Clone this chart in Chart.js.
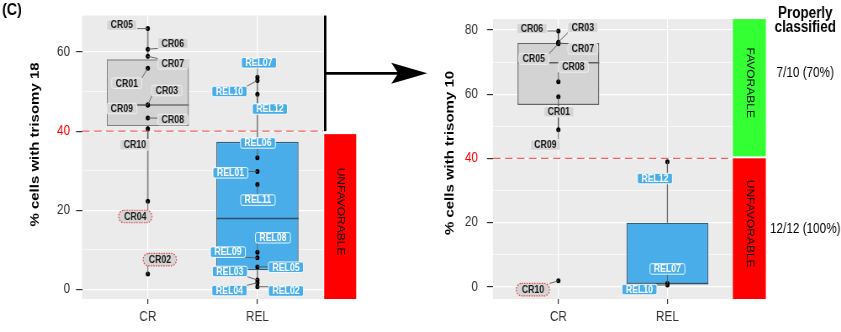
<!DOCTYPE html>
<html>
<head>
<meta charset="utf-8">
<title>Trisomy 18 and trisomy 10 by response group</title>
<script src="https://cdn.jsdelivr.net/npm/chart.js@4.4.1/dist/chart.umd.min.js"></script>
<style>
  html, body { margin: 0; padding: 0; background: #ffffff; }
  body { position: relative; width: 841px; height: 332px; overflow: hidden; }
  canvas { position: absolute; top: 0; }
</style>
</head>
<body>
<canvas id="panel18" width="511" height="332" style="left:0px;width:430px;height:332px"></canvas>
<canvas id="panel10" width="489" height="332" style="left:430px;width:411px;height:332px"></canvas>
<script>
// ---------------- data ----------------
const groups = ['CR', 'REL'];
const threshold = 40;

// % cells with trisomy 18
const t18CrIds   = ['CR01', 'CR02', 'CR03', 'CR04', 'CR05', 'CR06', 'CR07', 'CR08', 'CR09', 'CR10'];
const t18CrVals  = [55.9, 3.9, 46.6, 22.3, 65.9, 60.7, 58.9, 43.3, 46.6, 40.6];
const t18RelIds  = ['REL01', 'REL02', 'REL03', 'REL04', 'REL05', 'REL06', 'REL07', 'REL08', 'REL09', 'REL10', 'REL11', 'REL12'];
const t18RelVals = [29.8, 0.7, 2.4, 1.7, 5.7, 33.3, 53.6, 9.4, 8.0, 52.8, 26.5, 49.3];

// % cells with trisomy 10
const t10CrIds   = ['CR01', 'CR03', 'CR05', 'CR06', 'CR07', 'CR08', 'CR09', 'CR10'];
const t10CrVals  = [59.2, 76.2, 75.7, 79.7, 75.9, 63.9, 48.9, 1.8];
const t10RelIds  = ['REL07', 'REL10', 'REL12'];
const t10RelVals = [1.0, 0.5, 38.9];

const t18MajorTicks = [0, 20, 40, 60];
const t18MinorTicks = [10, 30, 50];
const t10MajorTicks = [0, 20, 40, 60, 80];
const t10MinorTicks = [10, 30, 50, 70];

// samples on the wrong side of the cut-off
const t18Flagged = ['CR02', 'CR04'];
const t10Flagged = ['CR10'];

const classifiedHeader = ['Properly', 'classified'];
const classifiedFavorable = '7/10 (70%)';
const classifiedUnfavorable = '12/12 (100%)';

// ---------------- layout & style ----------------
// The drawing space is wider than the page; CSS narrows it back, giving condensed lettering.
const XS = 1000 / 841;
const FONT = '"Liberation Sans", Arial, Helvetica, sans-serif';
const TAG_FONT = 10.4;

// label placement relative to each point (page pixels: dx, dy)
const tagOffsets18 = {
  CR05: [-26, -3.5], CR06: [25, -6], CR07: [25, 7.5], CR01: [-21, 15], CR03: [19, -14.5],
  CR09: [-26, 3.5], CR08: [25, 1.5], CR10: [-13, 16], CR04: [-12.5, 15.3], CR02: [12, -14.5],
  REL07: [1.5, -14.5], REL10: [-28, 11], REL12: [12.5, 14.7], REL06: [0.5, -14.7], REL01: [-27, 1.3],
  REL11: [0.5, 15.5], REL08: [15.5, -14.5], REL09: [-29.5, -5.7], REL05: [28.5, 0.3], REL03: [-27.5, -8.5],
  REL04: [-28, 7.8], REL02: [28.5, 4.3]
};
const tagOffsets10 = {
  CR06: [-26.5, -2.5], CR03: [24.5, -14.8], CR07: [24.5, 5.7], CR05: [-24.5, 15.2], CR08: [15, -14.7],
  CR01: [0.5, 15], CR09: [-13, 15.3], CR10: [-25.5, 8.8],
  REL12: [-12.5, 16.7], REL07: [0, -14.5], REL10: [-28, 4.5]
};

// ---------------- helpers ----------------
function boxStats(values) {
  const s = [...values].sort((a, b) => a - b);
  const q = p => {
    const h = (s.length - 1) * p, lo = Math.floor(h), hi = Math.min(lo + 1, s.length - 1);
    return s[lo] + (h - lo) * (s[hi] - s[lo]);
  };
  const q1 = q(0.25), med = q(0.5), q3 = q(0.75), iqr = q3 - q1;
  const lo = Math.min(...s.filter(v => v >= q1 - 1.5 * iqr));
  const hi = Math.max(...s.filter(v => v <= q3 + 1.5 * iqr));
  return { q1, med, q3, lo, hi };
}

function roundRectPath(ctx, x, y, w, h, r) {
  ctx.beginPath();
  ctx.moveTo(x + r, y);
  ctx.lineTo(x + w - r, y);
  ctx.arcTo(x + w, y, x + w, y + r, r);
  ctx.lineTo(x + w, y + h - r);
  ctx.arcTo(x + w, y + h, x + w - r, y + h, r);
  ctx.lineTo(x + r, y + h);
  ctx.arcTo(x, y + h, x, y + h - r, r);
  ctx.lineTo(x, y + r);
  ctx.arcTo(x, y, x + r, y, r);
  ctx.closePath();
}

function tagBox(ctx, text, cx, cy, flagged) {
  ctx.font = `bold ${TAG_FONT}px ${FONT}`;
  const padX = flagged ? 6.5 : 4.6;
  const h = flagged ? 12.5 : 10.5;
  const w = ctx.measureText(text).width + 2 * padX;
  return { x: cx - w / 2, y: cy - h / 2, w, h, r: flagged ? h / 2 : 2 };
}

function verticalText(ctx, text, cx, cy, size) {
  ctx.save();
  ctx.translate(cx, cy);
  ctx.rotate(Math.PI / 2);
  ctx.font = `${size}px ${FONT}`;
  ctx.fillStyle = '#000000';
  ctx.textAlign = 'center';
  ctx.textBaseline = 'middle';
  ctx.fillText(text, 0, 0);
  ctx.restore();
}

// ---------------- side decorations ----------------
function decorate18(chart) {
  const { ctx, chartArea: a, scales: { y } } = chart;
  const yT = y.getPixelForValue(threshold);
  const bx0 = a.right + 1 * XS, bx1 = a.right + 33 * XS;
  ctx.save();
  ctx.fillStyle = '#ff0000';
  ctx.fillRect(bx0, yT + 3, bx1 - bx0, a.bottom - yT - 3);
  verticalText(ctx, 'UNFAVORABLE', (bx0 + bx1) / 2, (yT + 3 + a.bottom) / 2 - 5, 12);

  // bracket over the favourable range and arrow towards the trisomy 10 panel
  const lx = a.right + 2 * XS;
  const ym = (a.top + yT) / 2;
  ctx.strokeStyle = '#000000';
  ctx.fillStyle = '#000000';
  ctx.lineWidth = 3;
  ctx.beginPath(); ctx.moveTo(lx, a.top); ctx.lineTo(lx, yT); ctx.stroke();
  ctx.lineWidth = 2.8;
  const tip = a.right + 104 * XS, back = a.right + 68 * XS, notch = a.right + 75 * XS;
  ctx.beginPath(); ctx.moveTo(lx, ym); ctx.lineTo(notch + 2, ym); ctx.stroke();
  ctx.beginPath();
  ctx.moveTo(tip, ym); ctx.lineTo(back, ym - 10.5); ctx.lineTo(notch, ym); ctx.lineTo(back, ym + 10.5);
  ctx.closePath(); ctx.fill();

  ctx.font = `bold 17px ${FONT}`;
  ctx.textAlign = 'left';
  ctx.textBaseline = 'alphabetic';
  ctx.fillText('(C)', 2 * XS, 15);
  ctx.restore();
}

function decorate10(chart) {
  const { ctx, chartArea: a, scales: { y } } = chart;
  const yT = y.getPixelForValue(threshold);
  const bx0 = a.right, bx1 = a.right + 33 * XS;
  ctx.save();
  ctx.fillStyle = '#33ff33';
  ctx.fillRect(bx0, a.top, bx1 - bx0, yT - 2 - a.top);
  ctx.fillStyle = '#ff0000';
  ctx.fillRect(bx0, yT, bx1 - bx0, a.bottom - yT);
  verticalText(ctx, 'FAVORABLE', (bx0 + bx1) / 2, (a.top + yT - 2) / 2 - 5, 12);
  verticalText(ctx, 'UNFAVORABLE', (bx0 + bx1) / 2, (yT + a.bottom) / 2 - 5, 12);

  const tx = a.right + 72.5 * XS;
  ctx.fillStyle = '#000000';
  ctx.textAlign = 'center';
  ctx.textBaseline = 'alphabetic';
  ctx.font = `bold 16px ${FONT}`;
  ctx.fillText(classifiedHeader[0], tx, 17.5);
  ctx.fillText(classifiedHeader[1], tx, 32);
  ctx.font = `14px ${FONT}`;
  ctx.fillText(classifiedFavorable, tx, 76.5);
  ctx.fillText(classifiedUnfavorable, tx, 232.5);
  ctx.restore();
}

// ---------------- panel builder ----------------
function buildPanel(cfg) {
  const stats = cfg.vals.map(boxStats);
  const points = [];
  cfg.vals.forEach((vs, g) => vs.forEach(v => points.push({ x: g + 1, y: v })));
  const boxes = stats.map((s, g) => ({ x: g + 1, y: [s.q1, s.q3] }));
  const allTicks = [...cfg.major, ...cfg.minor].sort((a, b) => a - b);
  const isMajor = v => cfg.major.includes(v);

  const marks = {
    id: 'panelMarks',
    beforeDraw(chart) {
      const { ctx, chartArea: a } = chart;
      ctx.save();
      ctx.fillStyle = '#ebebeb';
      ctx.fillRect(a.left, a.top, a.right - a.left, a.bottom - a.top);
      ctx.restore();
    },
    beforeDatasetsDraw(chart) {
      const { ctx, chartArea: a, scales: { x, y } } = chart;
      ctx.save();
      // cut-off line
      const yT = y.getPixelForValue(threshold);
      ctx.strokeStyle = '#f26464';
      ctx.lineWidth = 1.3;
      ctx.setLineDash([7.5 * XS, 4.5 * XS]);
      ctx.beginPath(); ctx.moveTo(a.left, yT); ctx.lineTo(a.right, yT); ctx.stroke();
      ctx.setLineDash([]);
      // whiskers
      stats.forEach((s, g) => {
        const px = x.getPixelForValue(g + 1);
        ctx.strokeStyle = cfg.style[g].whisker;
        ctx.lineWidth = cfg.whiskerWidth;
        ctx.beginPath();
        ctx.moveTo(px, y.getPixelForValue(s.hi)); ctx.lineTo(px, y.getPixelForValue(s.q3));
        ctx.moveTo(px, y.getPixelForValue(s.q1)); ctx.lineTo(px, y.getPixelForValue(s.lo));
        ctx.stroke();
      });
      ctx.restore();
    },
    afterDatasetDraw(chart, args) {
      if (args.meta.type !== 'bar') return;
      const { ctx, scales: { y } } = chart;
      ctx.save();
      args.meta.data.forEach((bar, g) => {
        const half = bar.width / 2;
        const py = y.getPixelForValue(stats[g].med);
        ctx.strokeStyle = cfg.style[g].median;
        ctx.lineWidth = 1.6;
        ctx.beginPath(); ctx.moveTo(bar.x - half, py); ctx.lineTo(bar.x + half, py); ctx.stroke();
      });
      ctx.restore();
    },
    afterDatasetsDraw(chart) {
      const { ctx, scales: { x, y } } = chart;
      const tags = [];
      cfg.ids.forEach((ids, g) => ids.forEach((id, i) => {
        const px = x.getPixelForValue(g + 1), py = y.getPixelForValue(cfg.vals[g][i]);
        const off = cfg.offsets[id];
        const cx = px + off[0] * XS, cy = py + off[1];
        const flagged = cfg.flagged.includes(id);
        tags.push({ id, g, px, py, flagged, box: tagBox(ctx, id, cx, cy, flagged), cx, cy });
      }));
      ctx.save();
      // leader segments
      ctx.strokeStyle = '#5a5a5a';
      ctx.lineWidth = 0.9;
      tags.forEach(t => {
        const b = t.box;
        const nx = Math.min(Math.max(t.px, b.x), b.x + b.w);
        const ny = Math.min(Math.max(t.py, b.y), b.y + b.h);
        if (Math.hypot(nx - t.px, ny - t.py) < 3) return;
        ctx.beginPath(); ctx.moveTo(t.px, t.py); ctx.lineTo(nx, ny); ctx.stroke();
      });
      // labels
      tags.forEach(t => {
        const b = t.box, rel = t.g === 1;
        roundRectPath(ctx, b.x, b.y, b.w, b.h, b.r);
        ctx.fillStyle = rel ? '#48ade9' : '#d5d5d5';
        ctx.fill();
        if (t.flagged) {
          ctx.setLineDash([1.6, 1.4]);
          ctx.strokeStyle = '#e5484d';
          ctx.lineWidth = 1.2;
        } else {
          ctx.setLineDash([]);
          ctx.strokeStyle = rel ? '#ffffff' : '#f2f2f2';
          ctx.lineWidth = 0.9;
        }
        ctx.stroke();
        ctx.setLineDash([]);
        ctx.font = `bold ${TAG_FONT}px ${FONT}`;
        ctx.fillStyle = rel ? '#ffffff' : '#1a1a1a';
        ctx.textAlign = 'center';
        ctx.textBaseline = 'middle';
        ctx.fillText(t.id, t.cx, t.cy + 0.5);
      });
      ctx.restore();
    },
    afterDraw(chart) {
      const { ctx } = chart;
      ctx.save();
      ctx.translate(cfg.titleX, cfg.titleY);
      ctx.rotate(-Math.PI / 2);
      ctx.font = `bold 15px ${FONT}`;
      ctx.fillStyle = '#000000';
      ctx.textAlign = 'center';
      ctx.textBaseline = 'middle';
      ctx.fillText(cfg.title, 0, 0);
      ctx.restore();
      cfg.decorate(chart);
    }
  };

  return new Chart(document.getElementById(cfg.canvasId), {
    type: 'bar',
    data: {
      datasets: [
        {
          type: 'scatter',
          data: points,
          pointRadius: 2.5,
          pointHoverRadius: 2.5,
          pointBackgroundColor: '#000000',
          pointBorderWidth: 0
        },
        {
          type: 'bar',
          data: boxes,
          backgroundColor: cfg.style.map(s => s.fill),
          borderColor: cfg.style.map(s => s.line),
          borderWidth: 1.4,
          borderSkipped: false,
          barPercentage: 0.75,
          categoryPercentage: 1,
          grouped: false
        }
      ]
    },
    options: {
      responsive: false,
      animation: false,
      devicePixelRatio: 1,
      events: [],
      layout: { padding: { top: 14, right: cfg.padRight, bottom: 0, left: 0 } },
      plugins: { legend: { display: false }, tooltip: { enabled: false } },
      scales: {
        x: {
          type: 'linear',
          min: 0.4,
          max: 2.6,
          offset: false,
          afterBuildTicks: s => { s.ticks = groups.map((g, i) => ({ value: i + 1 })); },
          afterFit: s => { s.height = 33; },
          grid: { offset: false, color: '#ffffff', lineWidth: 1.2, tickColor: '#333333', tickLength: 5 },
          border: { display: false },
          ticks: {
            callback: v => groups[v - 1],
            font: { family: FONT, size: 14 },
            color: '#333333',
            padding: 5,
            maxRotation: 0,
            autoSkip: false
          }
        },
        y: {
          type: 'linear',
          min: cfg.yMin,
          max: cfg.yMax,
          afterBuildTicks: s => { s.ticks = allTicks.map(v => ({ value: v })); },
          afterFit: s => { s.width = cfg.axisWidth; },
          grid: {
            color: '#ffffff',
            lineWidth: c => (c.tick && isMajor(c.tick.value) ? 1.2 : 0.6),
            tickColor: c => (c.tick && isMajor(c.tick.value) ? '#333333' : 'rgba(0,0,0,0)'),
            tickLength: 6 * XS
          },
          border: { display: false },
          ticks: {
            callback: v => (isMajor(v) ? String(v) : ''),
            font: { family: FONT, size: 14 },
            color: c => (c.tick && c.tick.value === threshold ? '#ff0000' : '#333333'),
            padding: cfg.tickPad,
            autoSkip: false
          }
        }
      }
    },
    plugins: [marks]
  });
}

buildPanel({
  canvasId: 'panel18',
  ids: [t18CrIds, t18RelIds],
  vals: [t18CrVals, t18RelVals],
  yMin: -2.4, yMax: 69.2,
  major: t18MajorTicks, minor: t18MinorTicks,
  flagged: t18Flagged, offsets: tagOffsets18,
  axisWidth: 82 * XS, padRight: 511 - 323 * XS, tickPad: 6 * XS,
  title: '% cells with trisomy 18', titleX: 35.5 * XS, titleY: 144.5,
  whiskerWidth: 1.8,
  style: [
    { fill: '#d3d3d3', line: '#808080', whisker: '#8a8a8a', median: '#707070' },
    { fill: '#48ade9', line: '#35607f', whisker: '#8a8a8a', median: '#2f506a' }
  ],
  decorate: decorate18
});

buildPanel({
  canvasId: 'panel10',
  ids: [t10CrIds, t10RelIds],
  vals: [t10CrVals, t10RelVals],
  yMin: -3.85, yMax: 83.4,
  major: t10MajorTicks, minor: t10MinorTicks,
  flagged: t10Flagged, offsets: tagOffsets10,
  axisWidth: 63 * XS, padRight: 489 - 303 * XS, tickPad: 9 * XS,
  title: '% cells with trisomy 10', titleX: 20 * XS, titleY: 153,
  whiskerWidth: 1.3,
  style: [
    { fill: '#d3d3d3', line: '#666666', whisker: '#444444', median: '#606060' },
    { fill: '#48ade9', line: '#35607f', whisker: '#666666', median: '#2f506a' }
  ],
  decorate: decorate10
});
</script>
</body>
</html>
